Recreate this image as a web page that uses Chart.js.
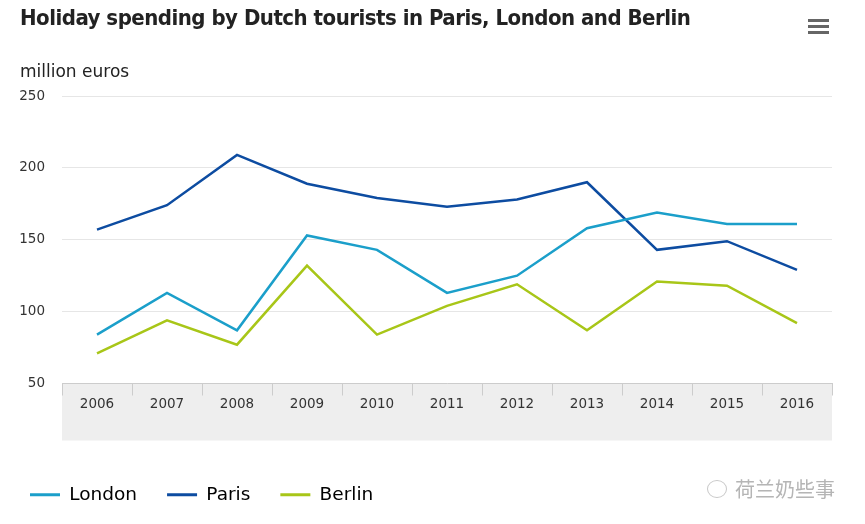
<!DOCTYPE html>
<html>
<head>
<meta charset="utf-8">
<script src="https://cdn.jsdelivr.net/npm/chart.js@4/dist/chart.umd.min.js"></script>
<style>
    html, body { margin: 0; padding: 0; background: #fff; }
    #wrap { position: relative; width: 865px; height: 524px; }
    #title {
        position: absolute; left: 20px; top: 5px;
        font: bold 22px "DejaVu Sans Condensed", sans-serif;
        letter-spacing: -0.5px;
        color: #222; white-space: nowrap;
    }
    #unit {
        position: absolute; left: 20px; top: 61px;
        font: 17px "DejaVu Sans", sans-serif; color: #222;
    }
    #menu { position: absolute; left: 808px; top: 19px; width: 21px; }
    #menu div { height: 3px; background: #666; margin-bottom: 3px; }
    #mark {
        position: absolute; left: 707px; top: 474px;
        font: 20px "Noto Sans CJK SC", sans-serif; color: #b5b5b5; white-space: nowrap;
    }
    #mark span {
        display: inline-block; width: 18px; height: 16px; border: 1px solid #c8c8c8;
        border-radius: 50%; margin-right: 8px; vertical-align: -1px;
    }
</style>
</head>
<body>
<div id="wrap">
    <canvas id="canvas" width="865" height="524"></canvas>
    <div id="title">Holiday spending by Dutch tourists in Paris, London and Berlin</div>
    <div id="unit">million euros</div>
    <div id="menu"><div></div><div></div><div></div></div>
    <div id="mark"><span></span>荷兰奶些事</div>
</div>
<script>
const years = ['2006', '2007', '2008', '2009', '2010', '2011', '2012', '2013', '2014', '2015', '2016'];
const london = [84, 113, 87, 153, 143, 113, 125, 158, 169, 161, 161];
const paris = [157, 174, 209, 189, 179, 173, 178, 190, 143, 149, 129];
const berlin = [71, 94, 77, 132, 84, 104, 119, 87, 121, 118, 92];
const yTicks = [50, 100, 150, 200, 250];

// grey band under the x axis
const axisBand = {
    id: 'axisBand',
    beforeDraw(chart) {
        const { ctx, chartArea } = chart;
        ctx.save();
        ctx.fillStyle = '#eeeeee';
        ctx.fillRect(chartArea.left, chartArea.bottom, chartArea.right - chartArea.left, 57);
        ctx.restore();
    }
};

function line(label, data, color) {
    return {
        label: label,
        data: data,
        borderColor: color,
        backgroundColor: color,
        borderWidth: 2.5,
        pointRadius: 0,
        tension: 0
    };
}

const ctx = document.getElementById('canvas').getContext('2d');
new Chart(ctx, {
    type: 'line',
    data: {
        labels: years,
        datasets: [
            line('London', london, '#1b9fca'),
            line('Paris', paris, '#0d4ca1'),
            line('Berlin', berlin, '#a8c618')
        ]
    },
    plugins: [axisBand],
    options: {
        responsive: false,
        animation: false,
        layout: { padding: { left: 0, right: 33, top: 96, bottom: 10 } },
        plugins: {
            tooltip: { enabled: false },
            legend: {
                position: 'bottom',
                align: 'start',
                labels: {
                    boxWidth: 30,
                    boxHeight: 3,
                    padding: 30,
                    color: '#222',
                    font: { family: 'DejaVu Sans', size: 18.5 },
                    generateLabels(chart) {
                        return chart.data.datasets.map((ds, i) => ({
                            text: ds.label,
                            fillStyle: ds.borderColor,
                            strokeStyle: ds.borderColor,
                            lineWidth: 0,
                            datasetIndex: i
                        }));
                    }
                }
            }
        },
        scales: {
            x: {
                offset: true,
                afterFit(scale) { scale.height = 72; },
                grid: {
                    offset: true,
                    drawOnChartArea: false,
                    drawTicks: true,
                    tickLength: 12,
                    color: '#cccccc'
                },
                border: { color: '#cccccc' },
                ticks: {
                    padding: 1,
                    color: '#333',
                    font: { family: 'DejaVu Sans', size: 13.5 }
                }
            },
            y: {
                min: 50,
                max: 250,
                afterFit(scale) { scale.width = 62; },
                afterBuildTicks(scale) {
                    scale.ticks = yTicks.map(v => ({ value: v }));
                },
                grid: { color: '#e6e6e6', drawTicks: false },
                border: { display: false },
                ticks: {
                    padding: 17,
                    color: '#333',
                    font: { family: 'DejaVu Sans', size: 13.5 }
                }
            }
        }
    }
});
</script>
</body>
</html>
